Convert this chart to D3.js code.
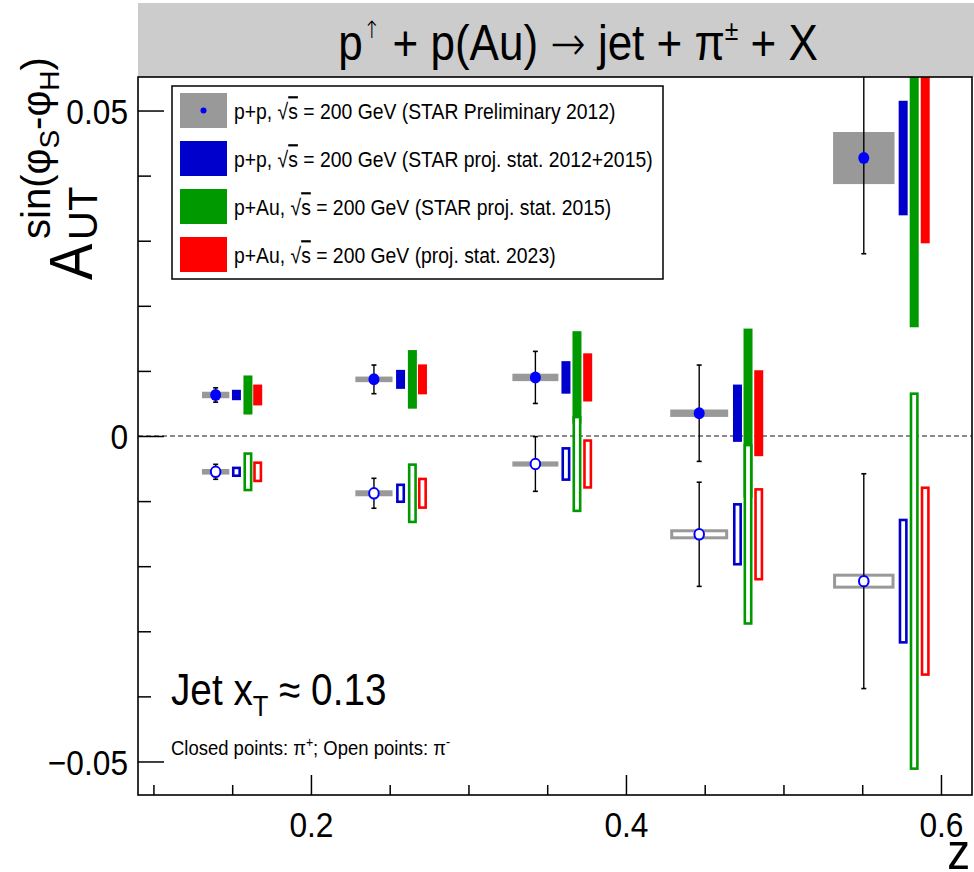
<!DOCTYPE html>
<html>
<head>
<meta charset="utf-8">
<script src="https://cdn.jsdelivr.net/npm/d3@7"></script>
<style>
    body { margin: 0; background: #fff; }
    text { font-family: "Liberation Sans", Arial, sans-serif; fill: #000; }
</style>
</head>
<body>
<svg id="chart" width="974" height="872"></svg>
<script>
// z bins of the STAR preliminary points
const zPoint   = [0.1395, 0.240, 0.3425, 0.4465, 0.551];
const zBinHalf = [0.0087, 0.0118, 0.0146, 0.0184, 0.0195];

// pi+ (closed) and pi- (open) asymmetries
const aPiPlus     = [0.0063, 0.0087, 0.0090, 0.0035, 0.0427];
const statPiPlus  = [0.0011, 0.0022, 0.0040, 0.0074, 0.0147];
const sysPiPlus   = [0.0005, 0.00043, 0.00057, 0.00057, 0.0040];
const aPiMinus    = [-0.0055, -0.0088, -0.0043, -0.0151, -0.0223];
const statPiMinus = [0.00115, 0.0023, 0.0042, 0.0080, 0.0165];
const sysPiMinus  = [0.00043, 0.00046, 0.0004, 0.00077, 0.00115];

// projected statistical uncertainties, drawn beside each point
const zProjPP     = [0.1527, 0.2569, 0.3619, 0.4708, 0.5760];
const projPPPlus  = [0.0008, 0.00146, 0.0025, 0.0044, 0.0088];
const projPPMinus = [0.0008, 0.0015, 0.0026, 0.0048, 0.0096];

const zProjAu15     = [0.1600, 0.2644, 0.3689, 0.4775, 0.5830];
const projAu15Plus  = [0.0030, 0.0045, 0.0071, 0.0130, 0.0260];
const projAu15Minus = [0.0030, 0.0046, 0.0074, 0.0139, 0.0290];

const zProjAu23     = [0.1662, 0.2708, 0.3757, 0.4843, 0.5900];
const projAu23Plus  = [0.0016, 0.0023, 0.0037, 0.0066, 0.0131];
const projAu23Minus = [0.0016, 0.0024, 0.0038, 0.0071, 0.01455];

const xMajorTicks = [0.2, 0.4, 0.6];
const xMinorTicks = [0.1, 0.15, 0.25, 0.3, 0.35, 0.45, 0.5, 0.55];
const yMajorTicks = [-0.05, 0, 0.05];
const yMinorTicks = [-0.04, -0.03, -0.02, -0.01, 0.01, 0.02, 0.03, 0.04];

// legend labels split around the sqrt(s)
const legendBefore = ["p+p, ", "p+p, ", "p+Au, ", "p+Au, "];
const legendAfter = [
    " = 200 GeV (STAR Preliminary 2012)",
    " = 200 GeV (STAR proj. stat. 2012+2015)",
    " = 200 GeV (STAR proj. stat. 2015)",
    " = 200 GeV (proj. stat. 2023)"
];
const legendColors = ["#999999", "#0000cc", "#009900", "#ff0000"];

const frame = { left: 138, top: 77, right: 972, bottom: 795 };
const NARROW = 0.88;   // no narrow font here, so squeeze text horizontally
const svg = d3.select("#chart");

const x = d3.scaleLinear().domain([0.0902, 0.6197]).range([frame.left, frame.right]);
const y = d3.scaleLinear().domain([-0.05515, 0.05515]).range([frame.bottom, frame.top]);

function narrowText(parent, px, py, size) {
    return parent.append("text")
        .attr("transform", `translate(${px},${py}) scale(${NARROW},1)`)
        .style("font-size", size + "px");
}

// title band
svg.append("rect")
    .attr("x", frame.left).attr("y", 3)
    .attr("width", 974 - frame.left).attr("height", frame.top - 3)
    .attr("fill", "#cccccc");

const title = narrowText(svg, 578, 60, 50).attr("text-anchor", "middle");
title.append("tspan").text("p");
title.append("tspan").attr("dy", -22)
    .style("font-family", "'DejaVu Sans'").style("font-size", "24px").style("font-weight", 200)
    .text("\u2191");
title.append("tspan").attr("dy", 22).text(" + p(Au) ");
title.append("tspan").style("font-family", "'DejaVu Sans'").style("font-size", "48px").style("font-weight", 200)
    .text("\u2192");
title.append("tspan").text(" jet + \u03C0");
title.append("tspan").attr("dy", -20).style("font-size", "28px").text("\u00B1");
title.append("tspan").attr("dy", 20).text(" + X");

// plot area
svg.append("defs").append("clipPath").attr("id", "plotClip")
    .append("rect")
    .attr("x", frame.left).attr("y", frame.top)
    .attr("width", frame.right - frame.left).attr("height", frame.bottom - frame.top);

const plot = svg.append("g").attr("clip-path", "url(#plotClip)");

// zero line
plot.append("line")
    .attr("x1", frame.left).attr("x2", frame.right)
    .attr("y1", y(0)).attr("y2", y(0))
    .attr("stroke", "#666").attr("stroke-width", 1.3)
    .attr("stroke-dasharray", "5,3");

const barW = 9;

function drawBar(zc, val, err, color, open) {
    const x0 = x(zc) - barW / 2;
    const y0 = y(val + err), y1 = y(val - err);
    if (open) {
        plot.append("rect")
            .attr("x", x0 + 1.3).attr("y", y0 + 1.3)
            .attr("width", barW - 2.6).attr("height", Math.max(0, y1 - y0 - 2.6))
            .attr("fill", "#fff").attr("stroke", color).attr("stroke-width", 2.6);
    } else {
        plot.append("rect")
            .attr("x", x0).attr("y", y0)
            .attr("width", barW).attr("height", y1 - y0)
            .attr("fill", color);
    }
}

function drawPoint(i, val, stat, sys, open) {
    const cx = x(zPoint[i]), cy = y(val);
    const bx0 = x(zPoint[i] - zBinHalf[i]), bx1 = x(zPoint[i] + zBinHalf[i]);
    const by0 = y(val + sys), by1 = y(val - sys);
    if (open) {
        plot.append("rect")
            .attr("x", bx0 + 1.5).attr("y", by0 + 1.5)
            .attr("width", bx1 - bx0 - 3).attr("height", Math.max(0.5, by1 - by0 - 3))
            .attr("fill", "#fff").attr("stroke", "#999").attr("stroke-width", 3);
    } else {
        plot.append("rect")
            .attr("x", bx0).attr("y", by0)
            .attr("width", bx1 - bx0).attr("height", by1 - by0)
            .attr("fill", "#999");
    }
    // stat error bar with small caps
    const top = y(val + stat), bot = y(val - stat);
    plot.append("line")
        .attr("x1", cx).attr("x2", cx).attr("y1", top).attr("y2", bot)
        .attr("stroke", "#000").attr("stroke-width", 1.4);
    [top, bot].forEach(v => {
        plot.append("line")
            .attr("x1", cx - 2.5).attr("x2", cx + 2.5).attr("y1", v).attr("y2", v)
            .attr("stroke", "#000").attr("stroke-width", 1.6);
    });
    plot.append("ellipse")
        .attr("cx", cx).attr("cy", cy)
        .attr("rx", open ? 4.8 : 5.5).attr("ry", open ? 5.2 : 6)
        .attr("fill", open ? "#fff" : "#0000ff")
        .attr("stroke", open ? "#0000ff" : "none")
        .attr("stroke-width", 2);
}

zPoint.forEach((z, i) => {
    drawPoint(i, aPiPlus[i], statPiPlus[i], sysPiPlus[i], false);
    drawPoint(i, aPiMinus[i], statPiMinus[i], sysPiMinus[i], true);

    drawBar(zProjPP[i], aPiPlus[i], projPPPlus[i], legendColors[1], false);
    drawBar(zProjPP[i], aPiMinus[i], projPPMinus[i], legendColors[1], true);
    drawBar(zProjAu15[i], aPiPlus[i], projAu15Plus[i], legendColors[2], false);
    drawBar(zProjAu15[i], aPiMinus[i], projAu15Minus[i], legendColors[2], true);
    drawBar(zProjAu23[i], aPiPlus[i], projAu23Plus[i], legendColors[3], false);
    drawBar(zProjAu23[i], aPiMinus[i], projAu23Minus[i], legendColors[3], true);
});

// axes: ticks point into the frame
const axisStyle = g => {
    g.select(".domain").remove();
    g.selectAll(".tick line").attr("stroke", "#000").attr("stroke-width", 1.5);
    g.selectAll("text").style("font-size", "36px").attr("fill", "#000");
};

svg.append("g").attr("transform", `translate(0,${frame.bottom})`)
    .call(d3.axisBottom(x).tickValues(xMajorTicks).tickSizeInner(-20).tickSizeOuter(0)
        .tickPadding(16).tickFormat(d3.format(".1f")))
    .call(axisStyle)
    .call(g => g.selectAll("text").attr("transform", `scale(${NARROW},1)`));
svg.append("g").attr("transform", `translate(0,${frame.bottom})`)
    .call(d3.axisBottom(x).tickValues(xMinorTicks).tickSizeInner(-10).tickSizeOuter(0).tickFormat(""))
    .call(axisStyle);

svg.append("g").attr("transform", `translate(${frame.left},0)`)
    .call(d3.axisLeft(y).tickValues(yMajorTicks).tickSizeInner(-26).tickSizeOuter(0)
        .tickPadding(10).tickFormat(d => d === 0 ? "0" : d3.format(".2f")(d).replace("-", "\u2212")))
    .call(axisStyle)
    .call(g => g.selectAll("text")
        .attr("x", -10 / NARROW)
        .attr("dy", "0.36em")
        .attr("transform", `scale(${NARROW},1)`));
svg.append("g").attr("transform", `translate(${frame.left},0)`)
    .call(d3.axisLeft(y).tickValues(yMinorTicks).tickSizeInner(-13).tickSizeOuter(0).tickFormat(""))
    .call(axisStyle);

// frame
svg.append("rect")
    .attr("x", frame.left).attr("y", frame.top)
    .attr("width", frame.right - frame.left).attr("height", frame.bottom - frame.top)
    .attr("fill", "none").attr("stroke", "#000").attr("stroke-width", 1.6);

// axis titles
narrowText(svg, 970, 869, 52).attr("text-anchor", "end").text("z");

const yTitle = svg.append("g").attr("transform", "translate(92,280) rotate(-90)");
yTitle.append("text")
    .attr("transform", `scale(${NARROW},1)`)
    .style("font-size", "62px").text("A");
yTitle.append("text").attr("x", 40).attr("y", 5).style("font-size", "40px").text("UT");
const sup = yTitle.append("text").attr("x", 41).attr("y", -42).style("font-size", "40px");
sup.append("tspan").text("sin(\u03C6");
sup.append("tspan").attr("dy", 9).style("font-size", "28px").text("S");
sup.append("tspan").attr("dy", -9).text("-\u03C6");
sup.append("tspan").attr("dy", 9).style("font-size", "28px").text("H");
sup.append("tspan").attr("dy", -9).text(")");

// legend
const legend = svg.append("g");
legend.append("rect")
    .attr("x", 172).attr("y", 86).attr("width", 491).attr("height", 193)
    .attr("fill", "#fff").attr("stroke", "#000").attr("stroke-width", 1.5);

legendAfter.forEach((after, i) => {
    const top = 93 + i * 48;
    legend.append("rect")
        .attr("x", 180).attr("y", top).attr("width", 47).attr("height", 35)
        .attr("fill", legendColors[i]);
    if (i === 0) {
        legend.append("circle").attr("cx", 203.5).attr("cy", top + 17.5).attr("r", 3)
            .attr("fill", "#0000ff");
    }
    const t = narrowText(legend, 234, top + 25.5, 22);
    t.append("tspan").text(legendBefore[i] + "\u221A");
    t.append("tspan").style("text-decoration", "overline").text("s");
    t.append("tspan").text(after);
});

// annotations
const jet = narrowText(svg, 171, 705, 44);
jet.append("tspan").text("Jet x");
jet.append("tspan").attr("dy", 11).style("font-size", "29px").text("T");
jet.append("tspan").attr("dy", -11).text(" \u2248 0.13");

const note = narrowText(svg, 171, 755, 21);
note.append("tspan").text("Closed points: \u03C0");
note.append("tspan").attr("dy", -8).style("font-size", "14px").text("+");
note.append("tspan").attr("dy", 8).text("; Open points: \u03C0");
note.append("tspan").attr("dy", -8).style("font-size", "14px").text("-");
</script>
</body>
</html>
